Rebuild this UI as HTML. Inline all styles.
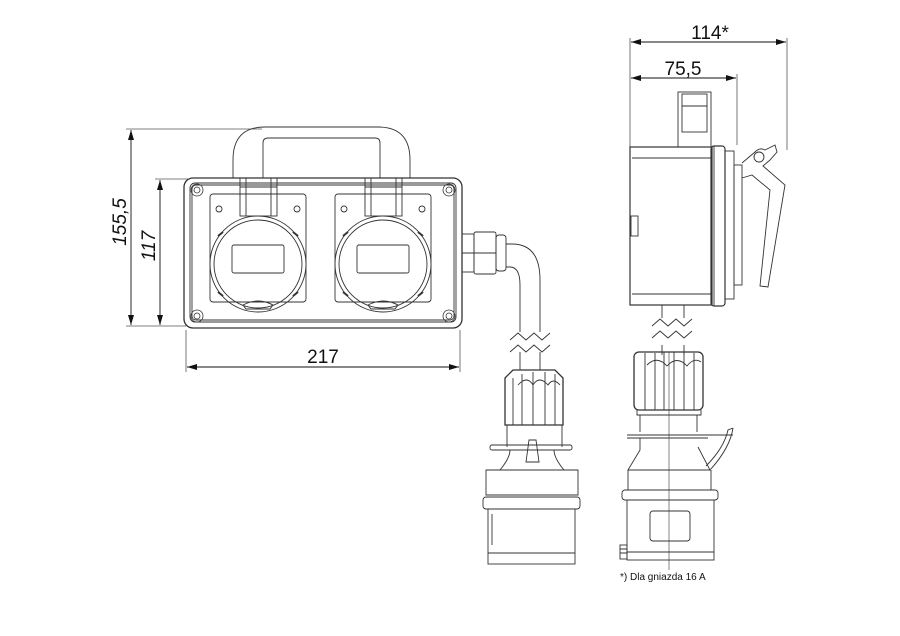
<!DOCTYPE html>
<html><head><meta charset="utf-8"><style>
html,body{margin:0;padding:0;background:#fff}
svg{display:block}
text{font-family:"Liberation Sans",sans-serif;fill:#111}
</style></head><body>
<svg width="900" height="636" viewBox="0 0 900 636" xmlns="http://www.w3.org/2000/svg">
<defs>
<marker id="a" viewBox="0 0 10 6" refX="10" refY="3" markerWidth="10" markerHeight="6" orient="auto-start-reverse" markerUnits="userSpaceOnUse"><path d="M0,0 L10,3 L0,6z" fill="#111"/></marker>
</defs>
<g fill="none" stroke="#555" stroke-width="0.8">
<line x1="126" y1="129" x2="262" y2="129"/>
<line x1="126" y1="326" x2="186" y2="326"/>
<line x1="155" y1="179" x2="188" y2="179"/>
<line x1="186" y1="330" x2="186" y2="372"/>
<line x1="460" y1="330" x2="460" y2="372"/>
<line x1="630" y1="38" x2="630" y2="147"/>
<line x1="737" y1="74" x2="737" y2="145"/>
<line x1="787" y1="38" x2="787" y2="150"/>
</g>
<g stroke="#111" stroke-width="0.9" fill="none">
<line x1="131" y1="130" x2="131" y2="325" marker-start="url(#a)" marker-end="url(#a)"/>
<line x1="160" y1="180" x2="160" y2="325" marker-start="url(#a)" marker-end="url(#a)"/>
<line x1="187" y1="367" x2="459" y2="367" marker-start="url(#a)" marker-end="url(#a)"/>
<line x1="631" y1="42" x2="786" y2="42" marker-start="url(#a)" marker-end="url(#a)"/>
<line x1="631" y1="78" x2="736" y2="78" marker-start="url(#a)" marker-end="url(#a)"/>
</g>
<text x="126" y="222" font-size="19" text-anchor="middle" transform="rotate(-90 126 222)" font-style="italic">155,5</text>
<text x="155" y="246" font-size="19" text-anchor="middle" transform="rotate(-90 155 246)" font-style="italic">117</text>
<text x="323" y="363" font-size="19" text-anchor="middle">217</text>
<text x="710" y="39" font-size="19" text-anchor="middle">114*</text>
<text x="683" y="75" font-size="19" text-anchor="middle">75,5</text>
<text x="620" y="580" font-size="10">*) Dla gniazda 16 A</text>

<g fill="none" stroke="#333" stroke-width="0.9">
<path d="M233,178 V160 Q233,127 265,127 H378 Q410,127 410,160 V178"/>
<path d="M263,178 V143 Q263,138 268,138 H375 Q380,138 380,143 V178"/>
<rect x="184" y="178" width="278" height="150" rx="9" stroke-width="1.3"/>
<rect x="190" y="183" width="266" height="139" rx="5"/>
<rect x="192" y="185" width="262" height="135" rx="4"/>
<g stroke-width="0.8">
<circle cx="197" cy="190" r="6"/><circle cx="197" cy="190" r="3"/>
<circle cx="449" cy="190" r="6"/><circle cx="449" cy="190" r="3"/>
<circle cx="197" cy="316" r="6"/><circle cx="197" cy="316" r="3"/>
<circle cx="449" cy="316" r="6"/><circle cx="449" cy="316" r="3"/>
</g>
<g id="s">
<rect x="210" y="194" width="96" height="108" rx="3"/>
<circle cx="219" cy="209" r="3"/><circle cx="297" cy="209" r="3"/>
<circle cx="258" cy="264" r="48"/>
<circle cx="258" cy="264" r="44"/>
<rect x="240" y="178" width="37" height="38"/>
<line x1="246" y1="178" x2="246" y2="216"/><line x1="271" y1="178" x2="271" y2="216"/>
<line x1="240" y1="187" x2="277" y2="187"/>
<rect x="232" y="245" width="52" height="28" rx="2"/>
<path d="M243,305 Q258,297 273,305 L270,309 H246 Z"/>
<path d="M218,236 l5,-4 M298,236 l-5,-4 M218,292 l5,4 M298,292 l-5,4" stroke-width="2"/>
</g>
<use href="#s" x="125"/>
<rect x="462" y="234" width="12" height="38"/>
<rect x="474" y="232" width="22" height="42" rx="2"/>
<line x1="462" y1="253" x2="496" y2="253"/>
<rect x="496" y="235" width="10" height="36" rx="3"/>
<path d="M506,244 H512 Q540,244 540,280 V332"/>
<path d="M506,267 H510 Q520,267 520,285 V332"/>
<path d="M520,352 V370 M540,352 V370"/>
<path d="M510,340 l8,-7 l8,7 l8,-7 l8,7 l8,-7 M510,352 l8,-7 l8,7 l8,-7 l8,7 l8,-7"/>
<path d="M505,378 L513,370 H555 L563,378 V425 H505 Z" stroke-width="1.3"/>
<path d="M513,378 V425 M522,374 V425 M533,372 V425 M545,372 V425 M555,374 V425 M518,385 Q527,375 533,385 Q539,375 548,385 Q553,377 560,385"/>
<path d="M507,425 V447 M562,425 V447 M509,425 H560"/>
<rect x="490" y="445" width="82" height="5" rx="2"/>
<path d="M526,462 L529,440 H536 L539,462 Z"/>
<path d="M510,450 Q510,458 500,470 H486 V495 H578 V470 H564 Q554,458 554,450"/>
<line x1="486" y1="470" x2="578" y2="470"/>
<rect x="483" y="497" width="97" height="12" rx="3"/>
<rect x="488" y="509" width="87" height="55"/>
<line x1="488" y1="553" x2="575" y2="553"/>
<line x1="492" y1="514" x2="492" y2="545"/>
<rect x="678" y="92" width="33" height="55"/>
<rect x="682" y="94" width="25" height="38"/>
<line x1="682" y1="106" x2="707" y2="106"/>
<rect x="630" y="147" width="82" height="158" stroke-width="1.2"/>
<line x1="632" y1="158" x2="711" y2="158"/>
<line x1="632" y1="294" x2="711" y2="294"/>
<rect x="631" y="216" width="7" height="20"/>
<rect x="711" y="146" width="14" height="160" rx="3" stroke-width="1.2"/>
<line x1="714" y1="146" x2="714" y2="306"/>
<rect x="725" y="151" width="9" height="148"/>
<rect x="734" y="165" width="8" height="120"/>
<path d="M742,163 L755,152 Q760,147 765,150 L775,145 L777,152 L770,160 L763,166 L785,185 L768,287 L760,286 L770,190 L752,175 L742,178"/>
<circle cx="759" cy="157" r="5"/>
<path d="M662,305 V318 M684,305 V318 M662,345 V355 M684,345 V355"/>
<path d="M652,326 l8,-7 l8,7 l8,-7 l8,7 l8,-7 M652,338 l8,-7 l8,7 l8,-7 l8,7 l8,-7"/>
<rect x="634" y="352" width="69" height="58" rx="5" stroke-width="1.3"/>
<path d="M645,353 V410 M655,353 V410 M664,352 V410 M674,352 V410 M684,352 V410 M694,353 V410 M647,365 Q657,355 667,366 Q677,355 687,366 Q694,357 701,362"/>
<path d="M637,410 V415 H701 V410 M640,415 V432 M697,415 V432"/>
<path d="M627,435 H733 M627,438 H708"/>
<path d="M733,428 Q730,448 710,470 M733,428 L728,430 Q724,448 706,466"/>
<path d="M640,438 V450 L628,470 H710 L698,447"/>
<path d="M628,470 V490 H711 V470"/>
<rect x="622" y="490" width="96" height="10" rx="3"/>
<rect x="627" y="500" width="87" height="60"/>
<rect x="650" y="511" width="40" height="30" rx="3"/>
<line x1="627" y1="552" x2="714" y2="552"/>
<line x1="669" y1="352" x2="669" y2="570" stroke-width="0.6"/>
<rect x="620" y="545" width="7" height="14"/>
<path d="M620,549 h7 M620,553 h7"/>
</g>
</svg>
</body></html>
